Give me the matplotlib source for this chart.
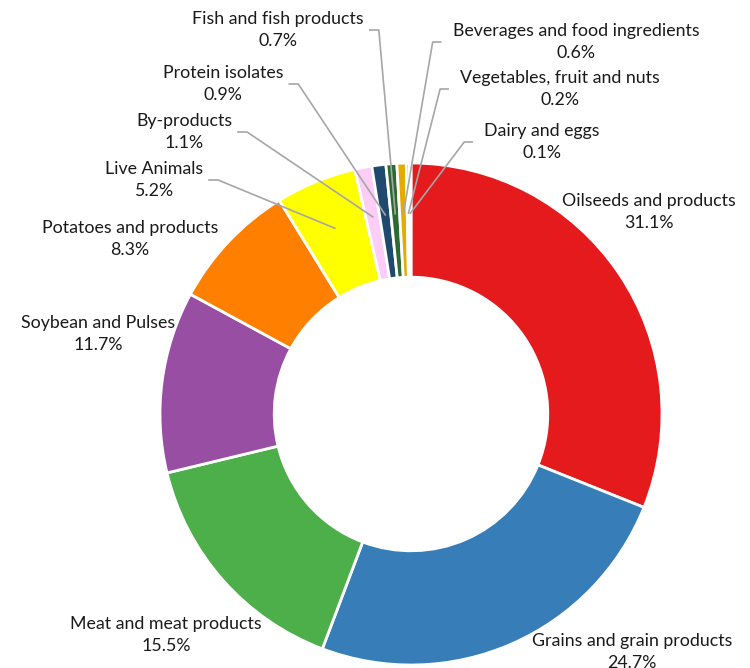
import numpy as np
import matplotlib
matplotlib.use('Agg')
import matplotlib.pyplot as plt

plt.rcParams['font.family'] = ['Lato', 'DejaVu Sans']

categories = ['Oilseeds and products', 'Grains and grain products', 'Meat and meat products',
              'Soybean and Pulses', 'Potatoes and products', 'Live Animals', 'By-products',
              'Protein isolates', 'Fish and fish products', 'Beverages and food ingredients',
              'Vegetables, fruit and nuts', 'Dairy and eggs']
shares = [31.1, 24.7, 15.5, 11.7, 8.3, 5.2, 1.1, 0.9, 0.7, 0.6, 0.2, 0.1]
colors = ['#e41a1c', '#377eb8', '#4daf4a', '#984ea3', '#ff7f00', '#ffff00', '#fccdf7',
          '#1f4a6e', '#2b6a30', '#e6ab02', '#a6761d', '#888888']

# label positions in pixels (center x, center y) and whether a leader line is drawn
label_px = [(649, 212), (632, 652), (166, 635), (98, 334), (130, 239), (154, 180),
            (184, 132), (223, 84), (278, 30), (576, 42), (560, 89), (542, 142)]
leader = [False] * 5 + [True] * 7

W, H = 750, 668
cx, cy, R = 411, 414, 251


def to_data(px, py):
    return (px - cx) / R, (cy - py) / R


fig = plt.figure(figsize=(W / 100, H / 100), dpi=100)
ax = fig.add_axes([0, 0, 1, 1])

wedges, _ = ax.pie(shares, colors=colors, startangle=90, counterclock=False, radius=1,
                   wedgeprops=dict(width=0.455, edgecolor='white', linewidth=2))

ax.set_xlim(-cx / R, (W - cx) / R)
ax.set_ylim(-(H - cy) / R, cy / R)
ax.axis('off')

fig.canvas.draw()
for i, w in enumerate(wedges):
    lx, ly = to_data(*label_px[i])
    txt = ax.text(lx, ly, f'{categories[i]}\n{shares[i]:.1f}%', ha='center', va='center',
                  fontsize=12.8, color='#1a1a1a', linespacing=1.48, clip_on=False)
    if not leader[i]:
        continue
    ang = np.deg2rad((w.theta1 + w.theta2) / 2)
    ex, ey = 0.8 * np.cos(ang), 0.8 * np.sin(ang)
    bb = txt.get_window_extent(renderer=fig.canvas.get_renderer()).transformed(ax.transData.inverted())
    if lx < ex:
        sx = bb.x1 + 6 / R
        kx = sx + 9 / R
    else:
        sx = bb.x0 - 12 / R
        kx = sx - 8 / R
    ax.plot([sx, kx, ex], [ly, ly, ey], color='#a6a6a6', lw=1.2, clip_on=False)

fig.savefig('out.png', dpi=100)
